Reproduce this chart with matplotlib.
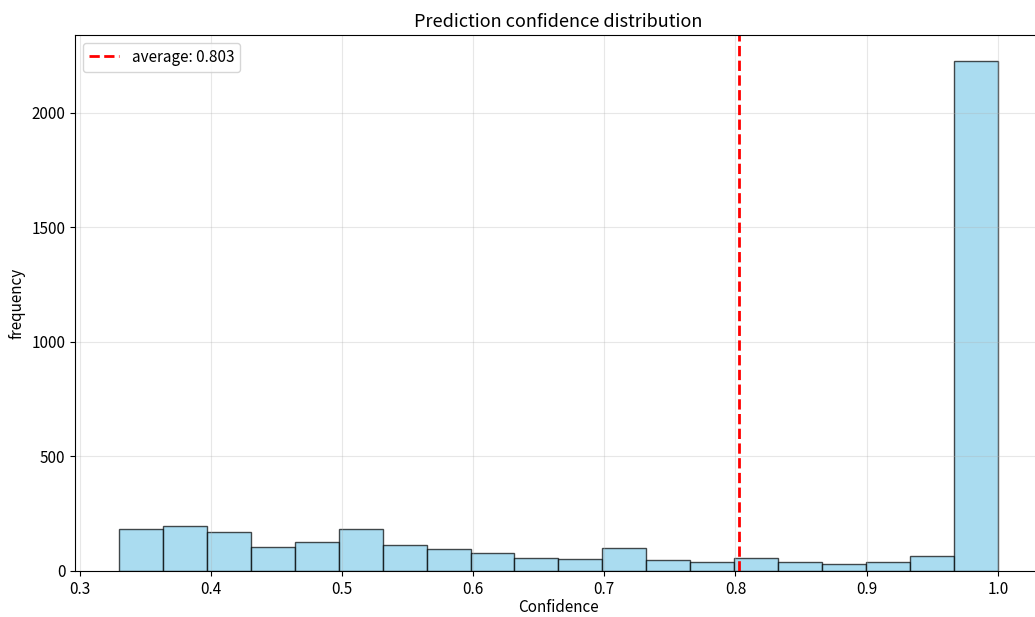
"""Prediction confidence histogram"""
import numpy as np
import matplotlib.pyplot as plt

plt.rcParams['font.family'] = ['Noto Sans CJK SC', 'DejaVu Sans']

# 20 equal bins between the lowest and highest confidence
bin_low, bin_high, n_bins = 0.33, 1.0, 20
counts = [183, 196, 169, 103, 128, 182, 115, 95, 80, 58,
          52, 100, 47, 37, 57, 38, 29, 41, 64, 2227]
mean_conf = 0.803

edges = np.linspace(bin_low, bin_high, n_bins + 1)
centers = (edges[:-1] + edges[1:]) / 2

fig = plt.figure(figsize=(10.35, 6.17), dpi=100)
# right spine sits past the image edge, as in the cropped original
ax = fig.add_axes([0.0725, 0.0746, 0.934, 0.8687])

ax.hist(centers, bins=edges, weights=counts, color='skyblue',
        edgecolor='black', alpha=0.7)
ax.axvline(mean_conf, color='red', linestyle='--', linewidth=2,
           label=f'average: {mean_conf:.3f}')

ax.set_title('Prediction confidence distribution', fontsize=13)
ax.set_xlabel('Confidence', fontsize=11, labelpad=1)
ax.set_ylabel('frequency', fontsize=11)
ax.set_yticks([0, 500, 1000, 1500, 2000])
ax.tick_params(labelsize=11)
ax.legend(loc='upper left', fontsize=11)
ax.grid(True, alpha=0.3)
ax.spines['right'].set_visible(False)

fig.savefig('out.png', dpi=100)
